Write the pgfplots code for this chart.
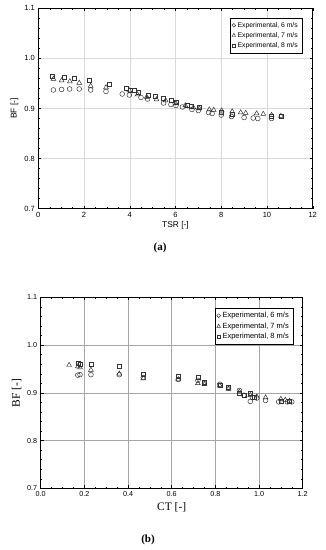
\documentclass[border=0pt]{standalone}
\usepackage{fontspec}
\setmainfont{Liberation Sans}
\newfontfamily\serif{Liberation Serif}
\usepackage{pgfplots}
\pgfplotsset{compat=1.18}
\begin{document}
\begin{tikzpicture}
\path[use as bounding box] (0pt,0pt) rectangle (325pt,550pt);
\pgfplotsset{
  common/.style={
    scale only axis,
    axis line style={black, line width=0.7pt},
    tick align=inside,
    major tick length=3pt, minor tick length=1.5pt,
    every tick/.style={black, line width=0.4pt},
    ticklabel style={font=\fontsize{7.5}{8}\selectfont},
    /pgf/number format/assume math mode=true,
    ymin=0.7, ymax=1.1, ytick={0.7,0.8,0.9,1.0,1.1},
    yticklabel style={/pgf/number format/fixed, /pgf/number format/fixed zerofill, /pgf/number format/precision=1},
    minor y tick num=4,
    grid=major,
    legend cell align=left,
    legend style={draw=black, line width=0.4pt, font=\fontsize{6.8}{8}\selectfont, inner sep=2pt, row sep=-0.3pt},
  },
  s6/.style={only marks, mark=o, mark size=2.4pt, mark options={draw=black!85, line width=0.45pt}, legend image post style={mark size=1.9pt}},
  s7/.style={only marks, mark=triangle, mark size=2.8pt, mark options={draw=black!85, line width=0.45pt}, legend image post style={mark size=2.1pt}},
  s8/.style={only marks, mark=square, mark size=2.0pt, mark options={draw=black!80, line width=0.4pt}, legend image post style={mark size=1.6pt}},
}
% ---------------- (a) ----------------
\begin{axis}[common,
  at={(38.3pt,341.3pt)}, anchor=south west,
  width=274.4pt, height=200.4pt,
  xmin=0, xmax=12, xtick={0,2,...,12}, minor x tick num=3,
  major grid style={gray!30, line width=0.5pt},
  xlabel={TSR [-]}, ylabel={BF [-]},
  label style={font=\fontsize{8.4}{9}\selectfont},
  xlabel style={yshift=3pt}, ylabel style={yshift=-1pt},
  legend style={at={(0.961,0.952)}, anchor=north east},
]
\addplot[s6] coordinates {
(0.66,0.937) (1.02,0.938) (1.37,0.939) (1.79,0.939) (2.29,0.937) (2.96,0.934)
(3.67,0.929) (3.98,0.927) (4.49,0.922) (4.78,0.919) (5.48,0.911) (5.80,0.908)
(6.02,0.906) (6.30,0.903) (6.72,0.898) (7.00,0.896) (7.45,0.892) (7.60,0.890)
(8.00,0.887) (8.45,0.884) (9.00,0.882) (9.40,0.881) (9.60,0.880) (10.20,0.880)};
\addlegendentry{Experimental, 6 m/s}
\addplot[s7] coordinates {
(0.66,0.959) (1.02,0.956) (1.38,0.954) (1.79,0.951) (2.29,0.945) (2.96,0.942)
(3.98,0.936) (4.34,0.928) (4.74,0.923) (5.17,0.918) (5.57,0.916) (6.02,0.910)
(6.43,0.906) (6.78,0.902) (7.04,0.900) (7.48,0.898) (7.67,0.897) (8.02,0.896)
(8.48,0.894) (8.85,0.892) (9.07,0.891) (9.55,0.890) (9.84,0.889) (10.20,0.887)
(10.61,0.885)};
\addlegendentry{Experimental, 7 m/s}
\addplot[s8] coordinates {
(0.61,0.964) (1.14,0.963) (1.56,0.960) (2.23,0.956) (3.08,0.948) (3.83,0.940)
(4.04,0.937) (4.21,0.936) (4.39,0.933) (4.80,0.927) (5.10,0.924) (5.45,0.920)
(5.82,0.916) (6.02,0.913) (6.52,0.906) (6.69,0.905) (7.04,0.902) (8.02,0.892)
(8.48,0.888) (10.20,0.884) (10.61,0.885)};
\addlegendentry{Experimental, 8 m/s}
\end{axis}
\node[font=\serif\bfseries\fontsize{11}{12}\selectfont] at (160pt,302pt) {(a)};
% ---------------- (b) ----------------
\begin{axis}[common,
  at={(40.7pt,61.7pt)}, anchor=south west,
  width=262pt, height=191pt,
  xmin=0, xmax=1.2, xtick={0,0.2,...,1.2}, minor x tick num=3,
  ticklabel style={font=\fontsize{7.2}{8}\selectfont},
  xticklabel style={/pgf/number format/fixed, /pgf/number format/fixed zerofill, /pgf/number format/precision=1},
  major grid style={gray!70, line width=0.5pt},
  xlabel={CT [-]}, ylabel={BF [-]},
  label style={font=\serif\fontsize{11.5}{12}\selectfont},
  xlabel style={yshift=1pt}, ylabel style={yshift=-1pt},
  legend style={at={(0.963,0.944)}, anchor=north east, font=\fontsize{7.5}{8.5}\selectfont},
]
\addplot[s6] coordinates {
(0.17,0.937) (0.18,0.938) (0.23,0.938) (0.36,0.938) (0.47,0.932) (0.63,0.928)
(0.72,0.926) (0.75,0.920) (0.82,0.918) (0.86,0.910) (0.91,0.905) (0.93,0.895)
(0.96,0.882) (0.97,0.890) (0.99,0.889) (1.03,0.884) (1.09,0.881) (1.13,0.881)
(1.15,0.881)};
\addlegendentry{Experimental, 6 m/s}
\addplot[s7] coordinates {
(0.13,0.958) (0.17,0.955) (0.18,0.953) (0.23,0.948) (0.36,0.940) (0.47,0.930)
(0.63,0.928) (0.72,0.920) (0.75,0.918) (0.82,0.915) (0.86,0.908) (0.91,0.902)
(0.96,0.895) (0.99,0.892) (1.03,0.890) (1.10,0.887) (1.12,0.885) (1.14,0.883)};
\addlegendentry{Experimental, 7 m/s}
\addplot[s8] coordinates {
(0.17,0.963) (0.18,0.960) (0.23,0.960) (0.36,0.955) (0.47,0.938) (0.63,0.935)
(0.72,0.932) (0.75,0.922) (0.82,0.915) (0.86,0.912) (0.91,0.900) (0.93,0.896)
(0.96,0.900) (0.98,0.890) (1.10,0.882) (1.14,0.882)};
\addlegendentry{Experimental, 8 m/s}
\end{axis}
\node[font=\serif\bfseries\fontsize{11}{12}\selectfont] at (148pt,10pt) {(b)};
\end{tikzpicture}
\end{document}
